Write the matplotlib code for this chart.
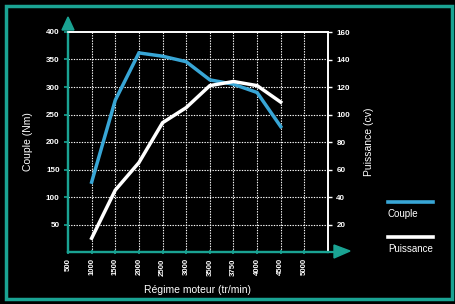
import matplotlib
matplotlib.use("Agg")
import matplotlib.pyplot as plt
from matplotlib.patches import Rectangle, Polygon
from matplotlib.lines import Line2D

rpm_labels = ["500", "1000", "1500", "2000", "2500", "3000", "3500", "3750", "4000", "4500", "5000"]
data_rpm = ["1000", "1500", "2000", "2500", "3000", "3500", "3750", "4000", "4500"]
couple = [127, 276, 362, 356, 346, 313, 305, 290, 228]
puissance = [10, 45, 65, 94, 105, 121, 124, 121, 109]
left_ticks = [50, 100, 150, 200, 250, 300, 350, 400]
right_ticks = [20, 40, 60, 80, 100, 120, 140, 160]

TEAL = "#1aa393"
BLUE = "#38a6d6"
FONT = "Liberation Sans"

fig = plt.figure(figsize=(4.56, 3.04), dpi=100, facecolor="black")
fig.patches.append(Rectangle((6/456, 5/304), 446/456, 293/304, transform=fig.transFigure,
                             fill=False, edgecolor=TEAL, linewidth=2.5))

ax = fig.add_axes([68/456, (304-252)/304, (328-68)/456, (252-32)/304])
ax.set_facecolor("black")
ax.set_xlim(0, 11)
ax.set_ylim(0, 400)
ax2 = ax.twinx()
ax2.set_ylim(0, 160)

xi = {lab: i for i, lab in enumerate(rpm_labels)}
xs = [xi[r] for r in data_rpm]

for i in range(1, len(rpm_labels)):
    ax.axvline(i, color="white", lw=0.8, ls=(0, (1.2, 1.2)), zorder=1)
for t in left_ticks[:-1]:
    ax.axhline(t, color="white", lw=0.8, ls=(0, (1.2, 1.2)), zorder=1)

ax.plot(xs, couple, color=BLUE, lw=2.5, zorder=3, solid_joinstyle="miter")
ax2.plot(xs, puissance, color="white", lw=2.5, zorder=3, solid_joinstyle="miter")

for a in (ax, ax2):
    a.spines["left"].set_color(TEAL)
    a.spines["bottom"].set_color(TEAL)
    a.spines["left"].set_linewidth(1.6)
    a.spines["bottom"].set_linewidth(1.6)
    a.spines["top"].set_color("white")
    a.spines["right"].set_color("white")
    a.spines["top"].set_linewidth(1.2)
    a.spines["right"].set_linewidth(1.2)

ax.set_xticks(range(len(rpm_labels)))
ax.set_xticklabels(rpm_labels, rotation=90, fontsize=5.6, fontweight="bold", color="white", family=FONT)
ax.tick_params(axis="x", length=3, width=1.2, color=TEAL, direction="inout", pad=3)
ax.set_yticks(left_ticks)
ax.set_yticklabels([str(t) for t in left_ticks], fontsize=5.8, fontweight="bold", color="white", family=FONT)
ax.tick_params(axis="y", length=3, width=1.2, color=TEAL, pad=3)
ax2.set_yticks(right_ticks)
ax2.set_yticklabels([str(t) for t in right_ticks], fontsize=5.8, fontweight="bold", color="white", family=FONT)
ax2.tick_params(axis="y", length=3, width=1, color="white", pad=3)

ax.set_ylabel("Couple (Nm)", color="white", fontsize=7.5, family=FONT, labelpad=9)
ax2.set_ylabel("Puissance (cv)", color="white", fontsize=7.5, family=FONT, labelpad=10)
ax.set_xlabel("Régime moteur (tr/min)", color="white", fontsize=7.5, family=FONT, labelpad=7)

fig.patches.append(Polygon([[62/456, (304-30)/304], [74/456, (304-30)/304], [68/456, (304-17)/304]],
                   closed=True, transform=fig.transFigure, color=TEAL))
fig.patches.append(Polygon([[334/456, (304-245)/304], [334/456, (304-258)/304], [350/456, (304-251)/304]],
                   closed=True, transform=fig.transFigure, color=TEAL))
fig.lines.append(Line2D([328/456, 336/456], [(304-252)/304]*2, transform=fig.transFigure, color=TEAL, lw=1.6))

fig.lines.append(Line2D([388/456, 433/456], [(304-202)/304]*2, transform=fig.transFigure, color=BLUE, lw=2.6))
fig.text(388/456, (304-214)/304, "Couple", color="white", fontsize=7, family=FONT, va="center", ha="left")
fig.lines.append(Line2D([388/456, 433/456], [(304-237)/304]*2, transform=fig.transFigure, color="white", lw=2.6))
fig.text(388/456, (304-249)/304, "Puissance", color="white", fontsize=7, family=FONT, va="center", ha="left")

fig.savefig("out.png", dpi=100, facecolor="black")
